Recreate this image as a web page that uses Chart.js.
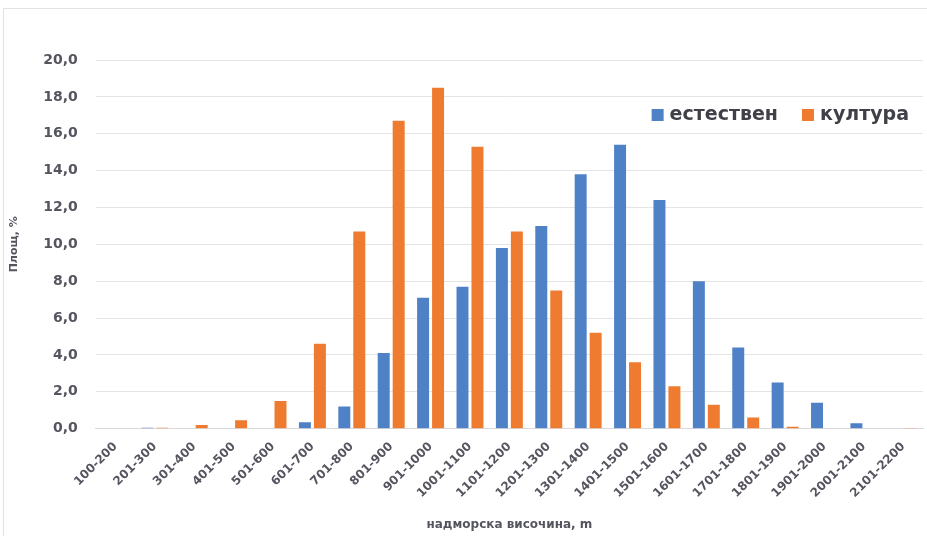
<!DOCTYPE html>
<html>
<head>
<meta charset="utf-8">
<script src="https://cdn.jsdelivr.net/npm/chart.js@4"></script>
<style>
  html, body { margin: 0; padding: 0; background: #fff; }
  #wrap { position: relative; width: 927px; height: 536px; }
  #frame { position: absolute; left: 3px; top: 8px; right: 0; bottom: 0; border-top: 1px solid #e2e2e2; border-left: 1px solid #e2e2e2; }
  canvas { position: absolute; left: 0; top: 0; }
</style>
</head>
<body>
<div id="wrap">
  <div id="frame"></div>
  <canvas id="myChart" width="927" height="536"></canvas>
</div>
<script>
// elevation classes, m
var categories = ['100-200', '201-300', '301-400', '401-500', '501-600', '601-700', '701-800',
  '801-900', '901-1000', '1001-1100', '1101-1200', '1201-1300', '1301-1400', '1401-1500',
  '1501-1600', '1601-1700', '1701-1800', '1801-1900', '1901-2000', '2001-2100', '2101-2200'];

// area, %
var natural = [0, 0.05, 0, 0, 0, 0.35, 1.2, 4.1, 7.1, 7.7, 9.8, 11.0, 13.8, 15.4, 12.4, 8.0, 4.4, 2.5, 1.4, 0.3, 0];
var planted = [0, 0.05, 0.2, 0.45, 1.5, 4.6, 10.7, 16.7, 18.5, 15.3, 10.7, 7.5, 5.2, 3.6, 2.3, 1.3, 0.6, 0.1, 0, 0, 0.03];

var yTicks = { min: 0, max: 20, step: 2 };

var textColor = '#555560';
var fontFamily = '"DejaVu Sans", sans-serif';

// legend drawn inside the plot, top right
var insideLegend = {
  id: 'insideLegend',
  afterDraw: function (chart) {
    var ctx = chart.ctx;
    var area = chart.chartArea;
    var sets = chart.data.datasets;
    ctx.save();
    ctx.font = 'bold 19px ' + fontFamily;
    ctx.textBaseline = 'middle';
    var box = 12, gap = 6, between = 24;
    var x = area.right - 14;
    var y = area.top + 55;
    for (var i = sets.length - 1; i >= 0; i--) {
      var w = ctx.measureText(sets[i].label).width;
      x -= w;
      ctx.fillStyle = '#404048';
      ctx.fillText(sets[i].label, x, y);
      x -= gap + box;
      ctx.fillStyle = sets[i].backgroundColor;
      ctx.fillRect(x, y - box / 2, box, box);
      x -= between;
    }
    ctx.restore();
  }
};

var ctx = document.getElementById('myChart').getContext('2d');
var chart = new Chart(ctx, {
  type: 'bar',
  data: {
    labels: categories,
    datasets: [{
      label: 'естествен',
      backgroundColor: '#4F81C7',
      data: natural
    },
    {
      label: 'култура',
      backgroundColor: '#EE7B30',
      data: planted
    }]
  },
  options: {
    responsive: false,
    animation: false,
    devicePixelRatio: 1,
    categoryPercentage: 0.76,
    barPercentage: 0.8,
    layout: { padding: { left: 8, right: 4, top: 60, bottom: 4 } },
    plugins: {
      legend: { display: false },
      tooltip: { enabled: false }
    },
    scales: {
      x: {
        grid: { display: false },
        border: { color: '#d9d9d9' },
        ticks: {
          autoSkip: false,
          minRotation: 45,
          maxRotation: 45,
          color: textColor,
          font: { family: fontFamily, size: 12, weight: 'bold' }
        },
        title: {
          display: true,
          text: 'надморска височина, m',
          color: textColor,
          font: { family: fontFamily, size: 12, weight: 'bold' },
          padding: { top: 14, bottom: 0 }
        }
      },
      y: {
        min: yTicks.min,
        max: yTicks.max,
        border: { display: false },
        grid: { color: '#e4e4e4', drawTicks: false },
        ticks: {
          stepSize: yTicks.step,
          padding: 18,
          color: textColor,
          font: { family: fontFamily, size: 14, weight: 'bold' },
          callback: function (v) { return v.toFixed(1).replace('.', ','); }
        },
        title: {
          display: true,
          text: 'Площ, %',
          color: textColor,
          font: { family: fontFamily, size: 11, weight: 'bold' },
          padding: { top: 0, bottom: 4 }
        }
      }
    }
  },
  plugins: [insideLegend]
});
</script>
</body>
</html>
